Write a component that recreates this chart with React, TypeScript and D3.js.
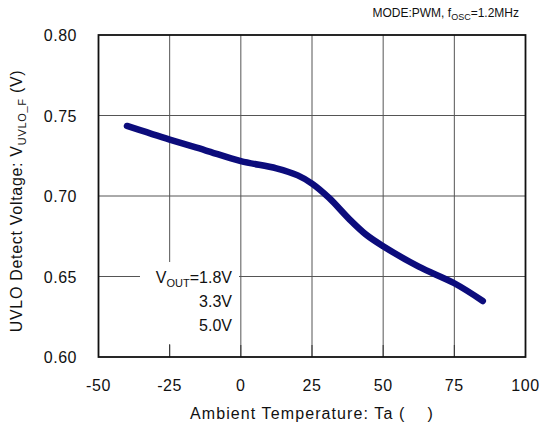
import React from "react";
import * as d3 from "d3";

const temps = [-40, -25, -12.5, 0, 12.5, 20, 25, 31, 38, 44, 50, 62.5, 75, 85];
const volts = [0.7435, 0.735, 0.7284, 0.7217, 0.7172, 0.7128, 0.7077, 0.6988, 0.6858, 0.676, 0.6688, 0.6561, 0.6458, 0.6348];
const xTicks = [-50, -25, 0, 25, 50, 75, 100];
const yTicks = [0.6, 0.65, 0.7, 0.75, 0.8];
const legendLines = ["=1.8V", "3.3V", "5.0V"];

const W = 545;
const H = 428;
const M = { left: 98.5, right: 525.5, top: 35, bottom: 357 };
const FONT = "Liberation Sans, Arial, sans-serif";

export default function App() {
  const x = d3.scaleLinear().domain([-50, 100]).range([M.left, M.right]);
  const y = d3.scaleLinear().domain([0.6, 0.8]).range([M.bottom, M.top]);
  const pts = temps.map((t, i) => [t, volts[i]] as [number, number]);
  const line = d3
    .line<[number, number]>()
    .x((d) => x(d[0]))
    .y((d) => y(d[1]))
    .curve(d3.curveCatmullRom.alpha(0.5));

  const legendRight = 232;
  return (
    <svg
      width={W}
      height={H}
      style={{ position: "absolute", left: 0, top: 0, background: "#fff" }}
      fontFamily={FONT}
    >
      <rect x={0} y={0} width={W} height={H} fill="#fff" />
      {xTicks.slice(1, -1).map((t) => (
        <line key={"gx" + t} x1={x(t)} x2={x(t)} y1={M.top} y2={M.bottom} stroke="#555" strokeWidth={1} />
      ))}
      {yTicks.slice(1, -1).map((t) => (
        <line key={"gy" + t} x1={M.left} x2={M.right} y1={y(t)} y2={y(t)} stroke="#555" strokeWidth={1} />
      ))}
      <rect x={140} y={262} width={99} height={82} fill="#fff" />
      <text x={legendRight} y={283} textAnchor="end" fontSize={16} fill="#111">
        V<tspan fontSize={11} dy={4}>OUT</tspan>
        <tspan dy={-4}>{legendLines[0]}</tspan>
      </text>
      <text x={legendRight} y={307} textAnchor="end" fontSize={16} fill="#111">{legendLines[1]}</text>
      <text x={legendRight} y={331} textAnchor="end" fontSize={16} fill="#111">{legendLines[2]}</text>
      {xTicks.map((t) => (
        <line key={"tx" + t} x1={x(t)} x2={x(t)} y1={M.bottom} y2={M.bottom - 12} stroke="#333" strokeWidth={1} />
      ))}
      <rect x={M.left} y={M.top} width={M.right - M.left} height={M.bottom - M.top} fill="none" stroke="#111" strokeWidth={1.8} />
      <path d={line(pts) || ""} fill="none" stroke="#0c0c7c" strokeWidth={6.5} strokeLinecap="round" strokeLinejoin="round" />
      {xTicks.map((t) => (
        <text key={"lx" + t} x={x(t)} y={391} textAnchor="middle" fontSize={16} fill="#111" letterSpacing={0.6}>
          {String(t)}
        </text>
      ))}
      {yTicks.map((t) => (
        <text key={"ly" + t} x={77} y={y(t) + 6} textAnchor="end" fontSize={16} fill="#111" letterSpacing={0.5}>
          {t.toFixed(2)}
        </text>
      ))}
      <text x={312} y={419} textAnchor="middle" fontSize={16} fill="#111" letterSpacing={1.1}>
        Ambient Temperature: Ta (<tspan xmlSpace="preserve">{"    "}</tspan>)
      </text>
      <text
        transform={`translate(22,${(M.top + M.bottom) / 2 + 5}) rotate(-90)`}
        textAnchor="middle"
        fontSize={16}
        fill="#111"
        letterSpacing={0.7}
      >
        UVLO Detect Voltage: V<tspan fontSize={11} dy={4}>UVLO_F</tspan>
        <tspan dy={-4}> (V)</tspan>
      </text>
      <text x={519} y={17} textAnchor="end" fontSize={12} fill="#111">
        MODE:PWM, f<tspan fontSize={9} dy={3}>OSC</tspan>
        <tspan dy={-3}>=1.2MHz</tspan>
      </text>
    </svg>
  );
}
